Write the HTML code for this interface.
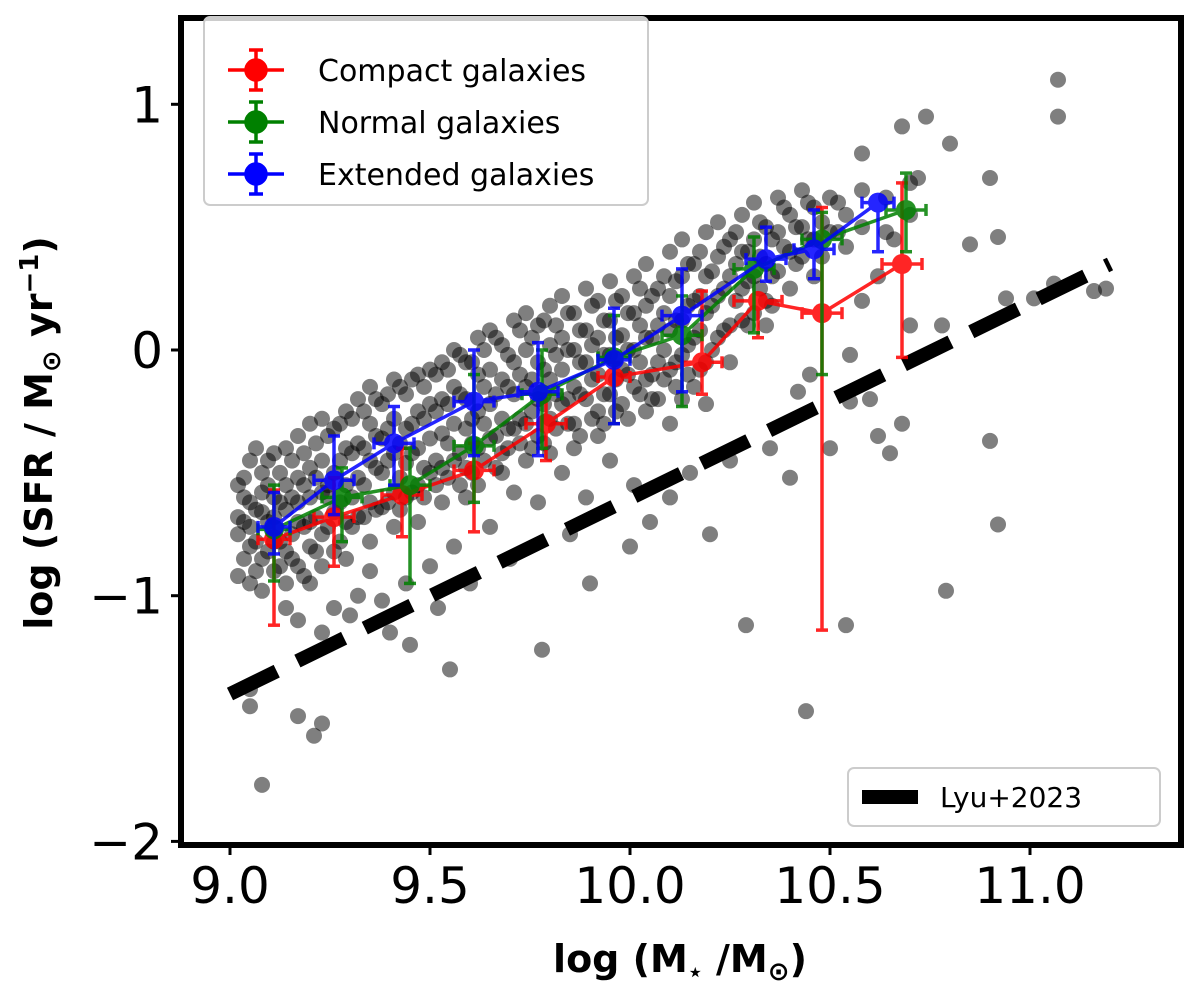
<!DOCTYPE html>
<html><head><meta charset="utf-8"><style>
body{margin:0;background:#fff;}
svg{display:block;font-family:"DejaVu Sans","Liberation Sans",sans-serif;}
</style></head><body>
<svg id="chart" width="1200" height="984" viewBox="0 0 1200 984" style="position:absolute;left:0;top:0"></svg>
<script>
const xTicks=[9.0,9.5,10.0,10.5,11.0];
const xTickLabels=["9.0","9.5","10.0","10.5","11.0"];
const yTicks=[1,0,-1,-2];
const yTickLabels=["1","0","\u22121","\u22122"];
const compactX=[9.11,9.26,9.43,9.61,9.79,9.96,10.18,10.32,10.48,10.68];
const compactY=[-0.77,-0.68,-0.59,-0.49,-0.30,-0.11,-0.05,0.20,0.15,0.35];
const compactLo=[-1.12,-0.88,-0.76,-0.74,-0.45,-0.30,-0.18,0.05,-1.14,-0.03];
const compactHi=[-0.57,-0.52,-0.40,-0.38,-0.18,-0.05,0.24,0.22,0.58,0.68];
const compactXerr=[0.04,0.05,0.05,0.05,0.05,0.04,0.05,0.06,0.05,0.05];
const normalX=[9.11,9.28,9.45,9.61,9.78,9.96,10.13,10.31,10.48,10.69];
const normalY=[-0.73,-0.60,-0.55,-0.39,-0.18,-0.03,0.06,0.33,0.45,0.57];
const normalLo=[-0.94,-0.78,-0.95,-0.62,-0.40,-0.30,-0.23,0.07,-0.10,0.40];
const normalHi=[-0.55,-0.48,-0.40,-0.10,0.00,0.14,0.22,0.46,0.56,0.72];
const normalXerr=[0.04,0.05,0.05,0.05,0.05,0.04,0.05,0.05,0.05,0.05];
const extX=[9.11,9.26,9.41,9.61,9.77,9.96,10.13,10.34,10.46,10.62];
const extY=[-0.72,-0.53,-0.38,-0.21,-0.17,-0.04,0.14,0.37,0.41,0.60];
const extLo=[-0.83,-0.67,-0.55,-0.43,-0.43,-0.30,-0.17,0.28,0.29,0.40];
const extHi=[-0.58,-0.35,-0.23,0.00,0.03,0.17,0.33,0.50,0.57,0.62];
const extXerr=[0.04,0.05,0.05,0.05,0.05,0.04,0.05,0.05,0.05,0.04];
const lyuX=[9.0,11.2];
const lyuY=[-1.40,0.35];
const galColX=[9.02,9.05,9.08,9.11,9.14,9.17,9.20,9.23,9.26,9.29,9.32,9.35,9.38,9.41,9.44,9.47,9.50,9.53,9.56,9.59,9.62,9.65,9.68,9.71,9.74,9.77,9.80,9.83,9.86,9.89,9.92,9.95,9.98,10.01,10.04,10.07,10.10,10.13,10.16,10.19,10.22,10.25,10.28,10.31,10.34,10.37,10.40,10.43,10.46,10.50,10.54,10.58,10.64,10.70];
const galColY=[
[-0.55,-0.75,-0.92,-0.68],[-0.45,-0.62,-0.80,-0.95,-0.72],[-0.50,-0.66,-0.85,-0.98,-0.58],[-0.42,-0.60,-0.78,-0.90,-0.68],
[-0.40,-0.55,-0.82,-0.95,-0.65,-1.05],[-0.35,-0.52,-0.70,-0.88,-0.62,-1.10],[-0.30,-0.48,-0.60,-0.80,-0.95,-0.70],[-0.28,-0.45,-0.58,-0.75,-0.88,-1.15],
[-0.32,-0.50,-0.66,-0.82,-1.05],[-0.25,-0.40,-0.55,-0.70,-0.85],[-0.20,-0.38,-0.52,-0.68,-1.00],[-0.15,-0.30,-0.45,-0.62,-0.78,-0.90],
[-0.22,-0.36,-0.50,-0.64,-1.02],[-0.12,-0.28,-0.42,-0.58,-0.72],[-0.18,-0.32,-0.46,-0.60,-0.95],[-0.10,-0.25,-0.40,-0.55,-0.70],
[-0.08,-0.22,-0.36,-0.50,-0.88],[-0.05,-0.20,-0.34,-0.48,-0.62],[0.00,-0.15,-0.30,-0.45,-0.80],[-0.05,-0.20,-0.32,-0.48,-0.60],
[0.05,-0.10,-0.25,-0.40,-0.55],[0.08,-0.08,-0.22,-0.36,-0.72],[0.02,-0.12,-0.28,-0.42,-0.50],[0.12,-0.05,-0.18,-0.32,-0.58],
[0.15,0.00,-0.15,-0.30,-0.45],[0.10,-0.05,-0.20,-0.35,-0.62],[0.18,0.02,-0.12,-0.28,-0.42],[0.22,0.05,-0.08,-0.22,-0.50],
[0.15,0.00,-0.15,-0.30,-0.40],[0.25,0.08,-0.05,-0.20,-0.60],[0.20,0.05,-0.10,-0.25,-0.35],[0.28,0.12,-0.02,-0.18,-0.45],
[0.22,0.06,-0.08,-0.22],[0.30,0.15,0.00,-0.15,-0.55],[0.35,0.18,0.05,-0.12,-0.25],[0.25,0.10,-0.05,-0.20],
[0.40,0.22,0.08,-0.08,-0.30],[0.45,0.30,0.12,-0.02,-0.20],[0.35,0.20,0.05,-0.15],[0.48,0.30,0.15,-0.05,-0.22],
[0.52,0.38,0.22,0.05],[0.45,0.30,0.10,-0.05],[0.55,0.40,0.25,0.12],[0.60,0.45,0.30,0.15],
[0.50,0.35,0.20,0.10],[0.62,0.48,0.32],[0.55,0.40,0.25],[0.65,0.50,0.38],
[0.58,0.45,0.30],[0.62,0.48],[0.55,0.42],[0.65,0.50],[0.62,0.48],[0.68,0.55]];
const galCol2X=[9.035,9.065,9.095,9.125,9.155,9.185,9.215,9.245,9.275,9.305,9.335,9.365,9.395,9.425,9.455,9.485,9.515,9.545,9.575,9.605,9.635,9.665,9.695,9.725,9.755,9.785,9.815,9.845,9.875,9.905,9.935,9.965,9.995,10.025,10.055,10.085,10.115,10.145,10.175,10.205,10.235,10.265,10.295,10.325,10.355,10.385,10.415,10.445,10.48,10.52];
const galCol2Y=[
[-0.60,-0.70,-0.85,-0.52],[-0.40,-0.65,-0.78,-0.90],[-0.55,-0.70,-0.82,-0.45],[-0.50,-0.62,-0.88,-0.78],
[-0.45,-0.60,-0.75,-0.85],[-0.42,-0.55,-0.72,-0.92],[-0.38,-0.52,-0.68,-0.82],[-0.35,-0.55,-0.72,-0.60],
[-0.30,-0.45,-0.62,-0.78],[-0.28,-0.42,-0.60,-0.72],[-0.25,-0.40,-0.55,-0.68],[-0.20,-0.35,-0.48,-0.65],
[-0.18,-0.32,-0.45,-0.62],[-0.15,-0.38,-0.52,-0.65],[-0.12,-0.30,-0.42,-0.58],[-0.15,-0.28,-0.48,-0.60],
[-0.10,-0.25,-0.45,-0.55],[-0.08,-0.22,-0.38,-0.52],[-0.02,-0.18,-0.42,-0.55],[-0.05,-0.28,-0.38,-0.50],
[0.00,-0.15,-0.30,-0.45],[0.05,-0.18,-0.35,-0.48],[-0.02,-0.15,-0.32,-0.40],[0.08,-0.10,-0.28,-0.38],
[0.05,-0.12,-0.25,-0.40],[0.12,-0.08,-0.22,-0.38],[0.10,-0.02,-0.18,-0.32],[0.15,0.00,-0.20,-0.30],
[0.08,-0.05,-0.18,-0.35],[0.18,0.02,-0.12,-0.28],[0.12,-0.02,-0.18,-0.30],[0.20,0.05,-0.12,-0.25],
[0.15,0.00,-0.10,-0.28],[0.25,0.10,-0.05,-0.18],[0.22,0.05,-0.10,-0.20],[0.30,0.15,0.00,-0.12],
[0.28,0.12,-0.05,-0.15],[0.35,0.18,0.02,-0.10],[0.40,0.22,0.08,-0.08],[0.32,0.18,0.00],
[0.42,0.25,0.08],[0.48,0.35,0.20],[0.40,0.28,0.10],[0.52,0.38,0.25],[0.45,0.30,0.18],
[0.58,0.42],[0.50,0.35],[0.60,0.45],[0.52,0.38],[0.60,0.48]];
const galOutliers=[[9.08,-1.77],[9.21,-1.57],[9.23,-1.52],[9.17,-1.49],[9.05,-1.45],[9.05,-1.38],[9.55,-1.30],[9.78,-1.22],[10.29,-1.12],[10.44,-1.47],[10.54,-1.12],[10.79,-0.98],[10.92,-0.71],[10.90,-0.37],[10.62,-0.35],[10.70,0.10],[10.78,0.10],[10.85,0.43],[10.90,0.70],[10.92,0.46],[10.94,0.21],[11.01,0.21],[11.07,1.10],[11.07,0.95],[11.16,0.24],[11.19,0.25],[11.06,0.27],[10.74,0.95],[10.68,0.91],[10.80,0.84],[10.58,0.80],[10.72,0.70],[10.55,-0.21],[10.60,-0.20],[10.55,-0.02],
[9.30,-1.08],[9.40,-1.15],[9.45,-1.20],[9.52,-1.05],[9.60,-0.95],[9.70,-0.85],[9.85,-0.75],[9.90,-0.95],[10.00,-0.80],[10.05,-0.70],[10.10,-0.60],[10.15,-0.50],[10.25,-0.45],[10.35,-0.40],[10.20,-0.75],[10.40,-0.52],[10.42,-0.17],[10.45,-0.10],[10.50,-0.40],[10.65,-0.42],[10.68,-0.30],[10.58,0.20],[10.62,0.30],[10.66,0.45]];

const NS="http://www.w3.org/2000/svg";
const svg=document.getElementById('chart');
const L=181,R=1181,T=18,B=845;
const sx=v=>230+(v-9.0)*400;
const sy=v=>350-v*245.7;
function mk(tag,attrs,parent){const e=document.createElementNS(NS,tag);for(const k in attrs)e.setAttribute(k,attrs[k]);(parent||svg).appendChild(e);return e;}

const clip=mk('clipPath',{id:'plotclip'});mk('rect',{x:L,y:T,width:R-L,height:B-T},clip);
const plot=mk('g',{'clip-path':'url(#plotclip)'});



function galaxy(x,y){
  const c=mk('circle',{cx:sx(x),cy:sy(y),r:8,fill:'#000','fill-opacity':0.5},plot);
  
  
}
galColX.forEach((x,i)=>galColY[i].forEach(y=>galaxy(x,y)));
galCol2X.forEach((x,i)=>galCol2Y[i].forEach(y=>galaxy(x,y)));
galOutliers.forEach(p=>galaxy(p[0],p[1]));

const lyu=mk('line',{x1:sx(lyuX[0]),y1:sy(lyuY[0]),x2:sx(lyuX[1]),y2:sy(lyuY[1]),stroke:'#000','stroke-width':14,'stroke-dasharray':'52 23'},plot);



function series(xs,ys,lo,hi,xe,color,name){
  const g=mk('g',{opacity:0.85},plot);
  
  
  for(let i=0;i<xs.length;i++){
    const x=sx(xs[i]),y=sy(ys[i]);
    mk('line',{x1:x,y1:sy(lo[i]),x2:x,y2:sy(hi[i]),stroke:color,'stroke-width':3.5},g);
    mk('line',{x1:x-6,y1:sy(lo[i]),x2:x+6,y2:sy(lo[i]),stroke:color,'stroke-width':3.5},g);
    mk('line',{x1:x-6,y1:sy(hi[i]),x2:x+6,y2:sy(hi[i]),stroke:color,'stroke-width':3.5},g);
    mk('line',{x1:sx(xs[i]-xe[i]),y1:y,x2:sx(xs[i]+xe[i]),y2:y,stroke:color,'stroke-width':3.5},g);
    mk('line',{x1:sx(xs[i]-xe[i]),y1:y-6,x2:sx(xs[i]-xe[i]),y2:y+6,stroke:color,'stroke-width':3.5},g);
    mk('line',{x1:sx(xs[i]+xe[i]),y1:y-6,x2:sx(xs[i]+xe[i]),y2:y+6,stroke:color,'stroke-width':3.5},g);
  }
  mk('polyline',{points:xs.map((v,i)=>sx(v)+','+sy(ys[i])).join(' '),fill:'none',stroke:color,'stroke-width':3.5},g);
  for(let i=0;i<xs.length;i++){
    const c=mk('circle',{cx:sx(xs[i]),cy:sy(ys[i]),r:10,fill:color},g);
    
    
  }
}
series(compactX,compactY,compactLo,compactHi,compactXerr,'#ff0000','compact');
series(normalX,normalY,normalLo,normalHi,normalXerr,'#008000','normal');
series(extX,extY,extLo,extHi,extXerr,'#0000ff','extended');

const frame=mk('rect',{x:L,y:T,width:R-L,height:B-T,fill:'none',stroke:'#000','stroke-width':6});



xTicks.forEach((v,i)=>{
  mk('line',{x1:sx(v),y1:B,x2:sx(v),y2:B+10,stroke:'#000','stroke-width':3});
  const t=mk('text',{x:sx(v),y:B+58,'text-anchor':'middle','font-size':50});
  t.textContent=xTickLabels[i];
  
  
});
yTicks.forEach((v,i)=>{
  mk('line',{x1:L-10,y1:sy(v),x2:L,y2:sy(v),stroke:'#000','stroke-width':3});
  const t=mk('text',{x:L-18,y:sy(v)+18,'text-anchor':'end','font-size':50});
  t.textContent=yTickLabels[i];
  
  
});
</script>
<svg style="position:absolute;left:0;top:0" width="1200" height="984">
<text x="680" y="972" text-anchor="middle" font-size="38" font-weight="bold" font-family="DejaVu Sans, sans-serif">log (M<tspan font-size="24" dy="8">⋆</tspan><tspan dy="-8"> /M</tspan><tspan font-size="26" dy="8">⊙</tspan><tspan dy="-8">)</tspan></text>
<text transform="translate(52,433) rotate(-90)" text-anchor="middle" font-size="38" font-weight="bold" font-family="DejaVu Sans, sans-serif">log (SFR / M<tspan font-size="26" dy="8">⊙</tspan><tspan dy="-8"> yr</tspan><tspan font-size="26" dy="-14">−1</tspan><tspan dy="14">)</tspan></text>
<g font-family="DejaVu Sans, sans-serif" font-size="30">
<rect x="204" y="17" width="444" height="188" rx="6" fill="#fff" fill-opacity="0.8" stroke="#ccc" stroke-width="2"/>
<g stroke="#ff0000" stroke-width="3.5"><line x1="228" y1="70" x2="284" y2="70"/><line x1="256" y1="50" x2="256" y2="90"/><line x1="249" y1="50" x2="263" y2="50"/><line x1="249" y1="90" x2="263" y2="90"/><circle cx="256" cy="70" r="10" fill="#ff0000"/><text x="318" y="81" stroke="none" fill="#000">Compact galaxies</text></g>
<g stroke="#008000" stroke-width="3.5"><line x1="228" y1="122" x2="284" y2="122"/><line x1="256" y1="102" x2="256" y2="142"/><line x1="249" y1="102" x2="263" y2="102"/><line x1="249" y1="142" x2="263" y2="142"/><circle cx="256" cy="122" r="10" fill="#008000"/><text x="318" y="133" stroke="none" fill="#000">Normal galaxies</text></g>
<g stroke="#0000ff" stroke-width="3.5"><line x1="228" y1="174" x2="284" y2="174"/><line x1="256" y1="154" x2="256" y2="194"/><line x1="249" y1="154" x2="263" y2="154"/><line x1="249" y1="194" x2="263" y2="194"/><circle cx="256" cy="174" r="10" fill="#0000ff"/><text x="318" y="185" stroke="none" fill="#000">Extended galaxies</text></g>
</g>
<g font-family="DejaVu Sans, sans-serif" font-size="28">
<rect x="848" y="768" width="312" height="58" rx="6" fill="#fff" fill-opacity="0.8" stroke="#ccc" stroke-width="2"/>
<line x1="862" y1="797" x2="918" y2="797" stroke="#000" stroke-width="14"/>
<text x="940" y="807">Lyu+2023</text>
</g>
</svg>
</body></html>
